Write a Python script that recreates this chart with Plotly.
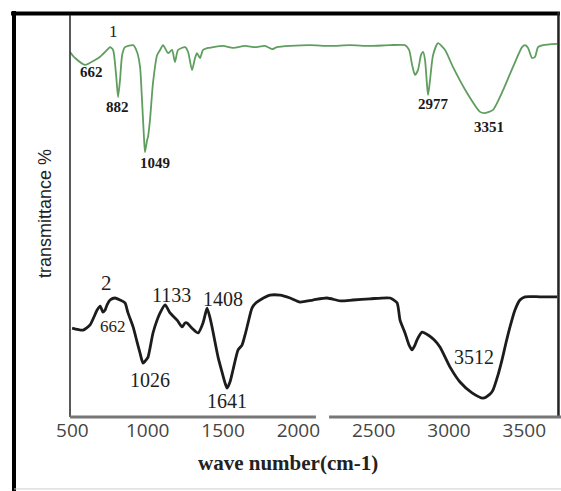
import plotly.graph_objects as go

# ---- data (wave number vs transmittance) ----
green_wn = [484, 518, 584, 650, 684, 730, 750, 770, 790, 803, 816, 830, 849, 903, 929, 949, 962, 976, 982,
            996, 1002, 1015, 1035, 1062, 1082, 1102, 1135, 1161, 1181, 1201, 1248, 1268, 1294, 1314, 1327,
            1347, 1367, 1400, 1434, 1500, 1566, 1646, 1712, 1779, 1825, 1858, 1945, 2077, 2210, 2343, 2476,
            2609, 2708, 2735, 2755, 2774, 2794, 2814, 2828, 2841, 2854, 2861, 2874, 2894, 2927, 2974, 3026,
            3120, 3206, 3239, 3292, 3359, 3425, 3485, 3505, 3525, 3551, 3571, 3591, 3624, 3717]
green_t = [90.8, 89.3, 87.6, 88.8, 89.6, 91.3, 92.0, 91.3, 85.1, 79.6, 83.8, 90.0, 92.0, 92.5, 90.8, 87.1,
           78.9, 68.9, 65.9, 68.9, 69.7, 73.9, 83.1, 90.0, 91.3, 92.5, 90.5, 91.3, 88.3, 91.3, 92.0, 90.8,
           86.3, 89.3, 90.5, 89.3, 91.3, 91.8, 92.0, 92.3, 91.8, 92.3, 92.0, 92.3, 91.5, 92.0, 92.3, 92.5,
           92.3, 92.5, 92.3, 92.5, 92.5, 91.3, 87.6, 85.1, 86.3, 90.0, 90.8, 88.8, 82.6, 80.1, 83.8, 90.0,
           93.0, 91.3, 87.1, 80.6, 75.9, 75.6, 76.4, 81.3, 87.1, 92.0, 92.5, 91.8, 89.3, 89.6, 92.0, 92.5, 92.8]

black_wn = [498, 571, 617, 664, 684, 703, 717, 730, 750, 783, 816, 849, 869, 903, 929, 949, 969, 989, 1002,
            1035, 1062, 1082, 1115, 1148, 1195, 1228, 1248, 1261, 1294, 1334, 1367, 1381, 1394, 1414, 1427,
            1467, 1493, 1513, 1527, 1546, 1566, 1600, 1626, 1646, 1666, 1692, 1719, 1746, 1812, 1878, 1945,
            2011, 2097, 2190, 2277, 2363, 2476, 2609, 2655, 2675, 2708, 2735, 2755, 2774, 2788, 2821, 2861,
            2901, 2940, 3007, 3073, 3153, 3226, 3272, 3292, 3325, 3352, 3378, 3405, 3438, 3471, 3505, 3604, 3717]
black_t = [22.1, 21.6, 22.9, 26.6, 27.6, 26.1, 26.6, 27.9, 29.1, 29.6, 29.1, 28.4, 25.9, 22.4, 18.7, 15.9,
           13.4, 14.2, 14.9, 20.9, 24.1, 25.9, 27.9, 25.9, 24.1, 22.4, 23.4, 23.4, 22.1, 20.9, 23.4, 25.4,
           27.1, 24.6, 22.4, 14.9, 11.2, 8.5, 7.2, 8.7, 11.7, 16.7, 17.9, 20.4, 23.4, 27.1, 28.4, 29.1, 30.3,
           30.3, 29.6, 28.6, 29.1, 29.6, 28.9, 29.1, 29.4, 29.6, 28.4, 24.1, 20.9, 17.9, 16.7, 17.9, 19.2,
           21.1, 20.4, 19.2, 17.4, 12.4, 8.7, 6.0, 4.7, 5.7, 6.7, 10.4, 14.2, 18.4, 22.4, 26.6, 29.1, 29.9,
           29.9, 29.9]

tick_values = [500, 1000, 1500, 2000, 2500, 3000, 3500]

green_labels = ["1", "662", "882", "1049", "2977", "3351"]
black_labels = ["2", "662", "1026", "1133", "1408", "1641", "3512"]

x_title = "wave number(cm-1)"
y_title = "transmittance %"

# ---- label anchor positions (layout) ----
green_pos = [(770, 95.8), (624, 85.8), (796, 77.1), (1049, 63.2), (2894, 77.9), (3266, 72.1)]
black_pos = [(723, 33.3), (770, 22.6), (1015, 9.2), (1155, 30.3), (1500, 29.4), (1527, 4.0), (3166, 14.9)]

fig = go.Figure()
fig.add_trace(go.Scatter(x=green_wn, y=green_t, mode="lines",
                         line=dict(color="#5f9e5f", width=1.8, shape="spline", smoothing=0.6),
                         showlegend=False))
fig.add_trace(go.Scatter(x=black_wn, y=black_t, mode="lines",
                         line=dict(color="#1c1c1c", width=2.8, shape="spline", smoothing=0.6),
                         showlegend=False))

annotations = []
for i, (txt, (x, y)) in enumerate(zip(green_labels, green_pos)):
    if i == 0:
        f = dict(family="Liberation Serif", size=17, color="#222")
        t = txt
    else:
        f = dict(family="Liberation Serif", size=15, color="#1a1a1a")
        t = "<b>%s</b>" % txt
    annotations.append(dict(x=x, y=y, xref="x", yref="y", text=t, showarrow=False, font=f))
for i, (txt, (x, y)) in enumerate(zip(black_labels, black_pos)):
    size = 21 if i == 0 else (17 if i == 1 else 20)
    annotations.append(dict(x=x, y=y, xref="x", yref="y", text=txt, showarrow=False,
                            font=dict(family="Liberation Serif", size=size, color="#1e1e1e")))

annotations.append(dict(x=0.4476, y=-0.149, xref="paper", yref="paper", text="<b>%s</b>" % x_title,
                        showarrow=False, font=dict(family="Liberation Serif", size=21, color="#222")))
annotations.append(dict(x=-0.076, y=0.5075, xref="paper", yref="paper", text=y_title, textangle=-90,
                        showarrow=False, font=dict(family="Liberation Sans", size=18, color="#222")))

shapes = [
    # outer frame
    dict(type="line", xref="paper", yref="paper", x0=-0.115, x1=-0.115, y0=1.01, y1=-0.25,
         line=dict(color="#000", width=4)),
    dict(type="line", xref="paper", yref="paper", x0=-0.121, x1=1.006, y0=1.0037, y1=1.0037,
         line=dict(color="#000", width=4)),
    dict(type="line", xref="paper", yref="paper", x0=1.003, x1=1.003, y0=1.0075, y1=0,
         line=dict(color="#222", width=2.5)),
    dict(type="line", xref="paper", yref="paper", x0=-0.115, x1=1.01, y0=-0.179, y1=-0.179,
         line=dict(color="#cccccc", width=1)),
    # y axis line
    dict(type="line", xref="paper", yref="paper", x0=0, x1=0, y0=0, y1=1,
         line=dict(color="#222", width=1.5)),
    # broken x axis line
    dict(type="line", xref="paper", yref="paper", x0=0, x1=0.505, y0=0, y1=0,
         line=dict(color="#777", width=3)),
    dict(type="line", xref="paper", yref="paper", x0=0.532, x1=1.01, y0=0, y1=0,
         line=dict(color="#777", width=3)),
]

fig.update_layout(
    width=561, height=491,
    margin=dict(l=70, r=4, t=15, b=74),
    paper_bgcolor="white", plot_bgcolor="white",
    annotations=annotations, shapes=shapes,
    xaxis=dict(range=[484, 3717], tickvals=tick_values, ticktext=[str(v) for v in tick_values],
               showgrid=False, zeroline=False, showline=False, ticks="",
               tickfont=dict(family="Open Sans", size=19, color="#444")),
    yaxis=dict(range=[0, 100], showgrid=False, zeroline=False, showline=False,
               showticklabels=False, ticks=""),
)

fig.write_html("out.html")
